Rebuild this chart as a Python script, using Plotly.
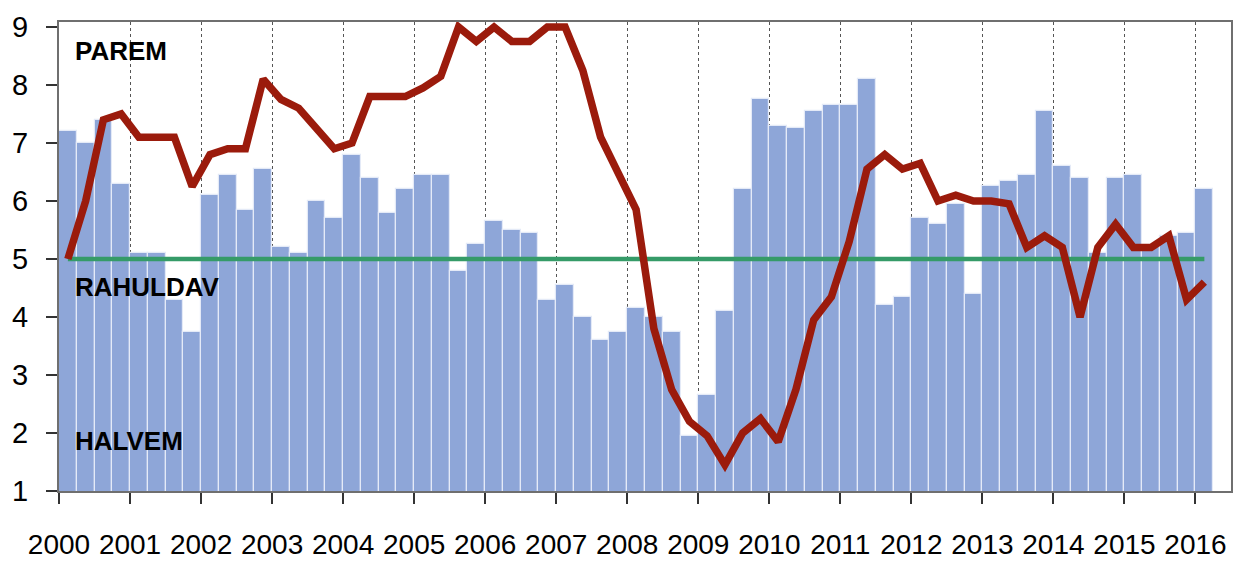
import pandas as pd
import plotly.graph_objects as go

# quarterly data, 2000Q1 .. 2016Q1
quarters = pd.period_range("2000Q1", "2016Q1", freq="Q")

# blue bars
bar_values = [
    7.2, 7.0, 7.4, 6.3, 5.1, 5.1, 4.3, 3.75,
    6.1, 6.45, 5.85, 6.55, 5.2, 5.1, 6.0, 5.7,
    6.8, 6.4, 5.8, 6.2, 6.45, 6.45, 4.8, 5.25,
    5.65, 5.5, 5.45, 4.3, 4.55, 4.0, 3.6, 3.75,
    4.15, 4.0, 3.75, 1.95, 2.65, 4.1, 6.2, 7.75,
    7.3, 7.25, 7.55, 7.65, 7.65, 8.1, 4.2, 4.35,
    5.7, 5.6, 5.95, 4.4, 6.25, 6.35, 6.45, 7.55,
    6.6, 6.4, 5.1, 6.4, 6.45, 5.2, 5.4, 5.45,
    6.2,
]

# red line
line_values = [
    5.0, 6.0, 7.4, 7.5, 7.1, 7.1, 7.1, 6.25,
    6.8, 6.9, 6.9, 8.1, 7.75, 7.6, 7.25, 6.9,
    7.0, 7.8, 7.8, 7.8, 7.95, 8.15, 9.0, 8.75,
    9.0, 8.75, 8.75, 9.0, 9.0, 8.25, 7.1, 6.5,
    5.85, 3.8, 2.75, 2.2, 1.95, 1.45, 2.0, 2.25,
    1.85, 2.75, 3.95, 4.35, 5.3, 6.55, 6.8, 6.55,
    6.65, 6.0, 6.1, 6.0, 6.0, 5.95, 5.2, 5.4,
    5.2, 4.0, 5.2, 5.6, 5.2, 5.2, 5.4, 4.3,
    4.6,
]

# green "neutral" level
neutral_level = 5.0

years = list(range(2000, 2017))
zone_labels = ["PAREM", "RAHULDAV", "HALVEM"]
zone_levels = [8.58, 4.52, 1.87]

x = quarters.year + (quarters.quarter - 0.5) / 4

fig = go.Figure()

fig.add_trace(go.Bar(
    x=x, y=bar_values, width=0.25,
    marker=dict(color="#8EA6D8", line=dict(color="#E4EAF7", width=1.2)),
    showlegend=False,
))
fig.add_trace(go.Scatter(
    x=x, y=[neutral_level] * len(x), mode="lines",
    line=dict(color="#359B68", width=4.5),
    showlegend=False,
))
fig.add_trace(go.Scatter(
    x=x, y=line_values, mode="lines",
    line=dict(color="#9B1B0C", width=7.5),
    showlegend=False,
))

for text, level in zip(zone_labels, zone_levels):
    fig.add_annotation(
        x=2000.2, y=level, xref="x", yref="y",
        text=f"<b>{text}</b>", showarrow=False,
        xanchor="left", yanchor="middle",
        font=dict(family="Liberation Sans, Arial", size=26, color="black"),
    )

fig.update_layout(
    width=1241, height=561,
    margin=dict(l=59, r=10, t=22, b=70),
    paper_bgcolor="white",
    plot_bgcolor="white",
    bargap=0,
    showlegend=False,
)

fig.update_xaxes(
    range=[2000, 2016.5],
    tickvals=years, ticktext=[str(y) for y in years],
    tickangle=0, automargin=False,
    ticks="outside", ticklen=11, tickwidth=1.5, tickcolor="#333",
    ticklabelstandoff=16,
    tickfont=dict(family="Liberation Sans, Arial", size=28, color="black"),
    showgrid=True, gridcolor="#555", griddash="dot", gridwidth=1,
    showline=True, linecolor="#6f6f6f", linewidth=2, mirror=True,
    zeroline=False,
)
fig.update_yaxes(
    range=[1, 9.086],
    tickvals=list(range(1, 10)),
    automargin=False,
    ticks="outside", ticklen=11, tickwidth=1.5, tickcolor="#333",
    ticklabelstandoff=12,
    tickfont=dict(family="Liberation Sans, Arial", size=29, color="black"),
    showgrid=False,
    showline=True, linecolor="#6f6f6f", linewidth=2, mirror=True,
    zeroline=False,
)

fig.write_html(
    "out.html",
    config={"displayModeBar": False},
    post_script="document.body.style.margin='0';",
)
